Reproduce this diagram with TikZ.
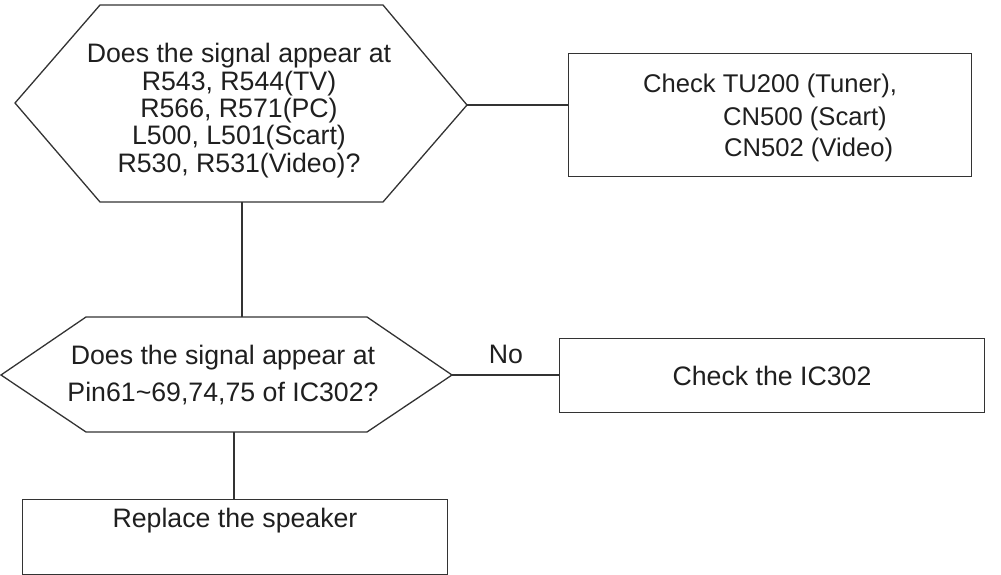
\documentclass[tikz,border=0pt]{standalone}
\usepackage{fontspec}
\setmainfont{Liberation Sans}
\begin{document}
\begin{tikzpicture}[x=1pt,y=-1pt,
  shapeline/.style={draw=black!80,line width=1.3pt},
  conn/.style={draw=black!80,line width=1.3pt},
  txt/.style={text=black!88,font=\fontsize{26.7}{27.3}\selectfont,align=center,inner sep=0pt},
  boxtxt/.style={text=black!88,font=\fontsize{25.6}{30}\selectfont,inner sep=0pt,anchor=base west},
  procbox/.style={shapeline,inner sep=0pt,anchor=north west}]
\useasboundingbox (0,0) rectangle (1001,575);
% decision 1
\draw[shapeline] (100,5) -- (383,5) -- (467,105) -- (383,202) -- (100,202) -- (15,103) -- cycle;
\coordinate (h1r) at (467,105);
\coordinate (h1b) at (242,202);
\node[txt] (h1t) at (239,110.5) {Does the signal appear at\\R543, R544(TV)\\R566, R571(PC)\\L500, L501(Scart)\\R530, R531(Video)?};
% box 2
\node[procbox,minimum width=403pt,minimum height=123pt] (b2) at (568,53) {};
\node[boxtxt] (b2a) at (643,93) {Check TU200 (Tuner),};
\node[boxtxt] (b2b) at (723,126) {CN500 (Scart)};
\node[boxtxt] (b2c) at (724,157) {CN502 (Video)};
% decision 2
\draw[shapeline] (86,317) -- (367,317) -- (452,375) -- (367,432) -- (86,432) -- (1,375) -- cycle;
\coordinate (h2t) at (242,317);
\coordinate (h2r) at (452,375);
\coordinate (h2b) at (234,432);
\node[txt,font=\fontsize{26.7}{37.7}\selectfont] (h2txt) at (223,375) {Does the signal appear at\\Pin61\char`\~69,74,75 of IC302?};
% box 4
\node[procbox,minimum width=425pt,minimum height=74pt] (b4) at (559,338) {};
\node[txt] (b4t) at (772,376) {Check the IC302};
% box 3
\node[procbox,minimum width=425pt,minimum height=75pt] (b3) at (22,499) {};
\node[txt] (b3t) at (235,521) {Replace the speaker};
% connectors
\draw[conn] (h1r) -- (b2.west |- h1r);
\draw[conn] (h1b) -- (h2t);
\draw[conn] (h2r) -- (b4.west |- h2r);
\draw[conn] (h2b) -- (h2b |- b3.north);
\node[txt] (no) at (506,354) {No};
\end{tikzpicture}
\end{document}
